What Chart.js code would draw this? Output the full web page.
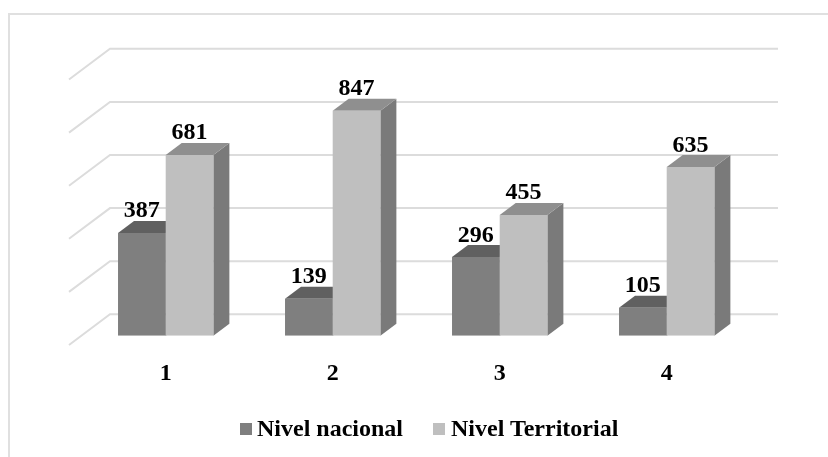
<!DOCTYPE html>
<html>
<head>
<meta charset="utf-8">
<script src="https://cdn.jsdelivr.net/npm/chart.js@4"></script>
<style>
  body { margin: 0; background: #fff; }
  #wrap { position: relative; width: 828px; height: 457px; overflow: hidden; }
  /* the frame runs off the right and bottom of the picture */
  #frame { position: absolute; left: 8px; top: 13px; width: 900px; height: 600px; border: 2px solid #e0e0e0; }
  #myChart { position: absolute; left: 0; top: 0; }
  #legend { position: absolute; left: 240px; top: 415px; height: 28px; line-height: 28px; white-space: nowrap;
            font: bold 24px "Liberation Serif", serif; color: #000; }
  #legend span.box { position: absolute; top: 8px; width: 12px; height: 12px; }
  #legend span.txt { position: absolute; top: 0; }
</style>
</head>
<body>
<div id="wrap">
  <div id="frame"></div>
  <canvas id="myChart" width="828" height="457"></canvas>
  <div id="legend"></div>
</div>
<script>
const categories = ['1', '2', '3', '4'];
const nacional = [387, 139, 296, 105];
const territorial = [681, 847, 455, 635];
const yTicks = [0, 200, 400, 600, 800, 1000];

// depth of the fake 3d look, in pixels
const barDepthX = 16;
const barDepthY = 12;

const faces = {
    'Nivel nacional': { top: '#606060', side: '#5a5a5a' },
    'Nivel Territorial': { top: '#8f8f8f', side: '#7a7a7a' },
};

function face(ctx, color, points) {
    ctx.fillStyle = color;
    ctx.beginPath();
    points.forEach((p, i) => (i ? ctx.lineTo(p[0], p[1]) : ctx.moveTo(p[0], p[1])));
    ctx.closePath();
    ctx.fill();
}

const depth3d = {
    id: 'depth3d',
    beforeDatasetsDraw(chart) {
        // walls: diagonal on the left, then the line along the back
        const { ctx, chartArea, scales } = chart;
        ctx.save();
        ctx.strokeStyle = '#dcdcdc';
        ctx.lineWidth = 2;
        scales.y.ticks.forEach((tick) => {
            const y = scales.y.getPixelForValue(tick.value);
            ctx.beginPath();
            ctx.moveTo(chartArea.left - 13.2, y + 9.3);
            ctx.lineTo(chartArea.left + 27.8, y - 21.4);
            ctx.lineTo(chartArea.right + 27.8, y - 21.4);
            ctx.stroke();
        });
        // top and side faces go first, the library then paints the fronts over them
        chart.data.datasets.forEach((ds, i) => {
            const colors = faces[ds.label];
            chart.getDatasetMeta(i).data.forEach((bar) => {
                const l = bar.x - bar.width / 2;
                const r = bar.x + bar.width / 2;
                face(ctx, colors.side, [[r, bar.y], [r + barDepthX, bar.y - barDepthY], [r + barDepthX, bar.base - barDepthY], [r, bar.base]]);
                face(ctx, colors.top, [[l, bar.y], [l + barDepthX, bar.y - barDepthY], [r + barDepthX, bar.y - barDepthY], [r, bar.y]]);
            });
        });
        ctx.restore();
    },
    afterDatasetsDraw(chart) {
        // value labels above each bar
        const ctx = chart.ctx;
        ctx.save();
        ctx.font = 'bold 24px "Liberation Serif", serif';
        ctx.fillStyle = '#000';
        ctx.textAlign = 'center';
        ctx.textBaseline = 'alphabetic';
        chart.data.datasets.forEach((ds, i) => {
            chart.getDatasetMeta(i).data.forEach((bar, j) => {
                ctx.fillText(ds.data[j], bar.x, bar.y - 15.5);
            });
        });
        ctx.restore();
    },
};

const chart = new Chart(document.getElementById('myChart').getContext('2d'), {
    type: 'bar',
    plugins: [depth3d],
    data: {
        labels: categories,
        datasets: [
            { label: 'Nivel nacional', data: nacional, backgroundColor: '#7f7f7f' },
            { label: 'Nivel Territorial', data: territorial, backgroundColor: '#bfbfbf' },
        ],
    },
    options: {
        responsive: false,
        animation: false,
        layout: { padding: { left: 82.2, right: 77.8, top: 70.2, bottom: 0 } },
        datasets: { bar: { barPercentage: 1, categoryPercentage: 0.571 } },
        plugins: { legend: { display: false }, tooltip: { enabled: false } },
        scales: {
            x: {
                grid: { display: false },
                border: { display: false },
                ticks: { color: '#000', padding: 16, font: { family: '"Liberation Serif", serif', size: 24, weight: 'bold' } },
                afterFit(scale) { scale.height = 121.3; },
            },
            y: {
                display: false,
                min: 0,
                max: 1000,
                afterBuildTicks(scale) { scale.ticks = yTicks.map((value) => ({ value })); },
            },
        },
    },
});

// legend as html, the gap between swatch and text is tighter than the built in one
const legend = document.getElementById('legend');
const legendPos = [[0, 17], [193, 211]];
chart.data.datasets.forEach((ds, i) => {
    const box = document.createElement('span');
    box.className = 'box';
    box.style.left = legendPos[i][0] + 'px';
    box.style.background = ds.backgroundColor;
    const txt = document.createElement('span');
    txt.className = 'txt';
    txt.style.left = legendPos[i][1] + 'px';
    txt.textContent = ds.label;
    legend.appendChild(box);
    legend.appendChild(txt);
});
</script>
</body>
</html>
